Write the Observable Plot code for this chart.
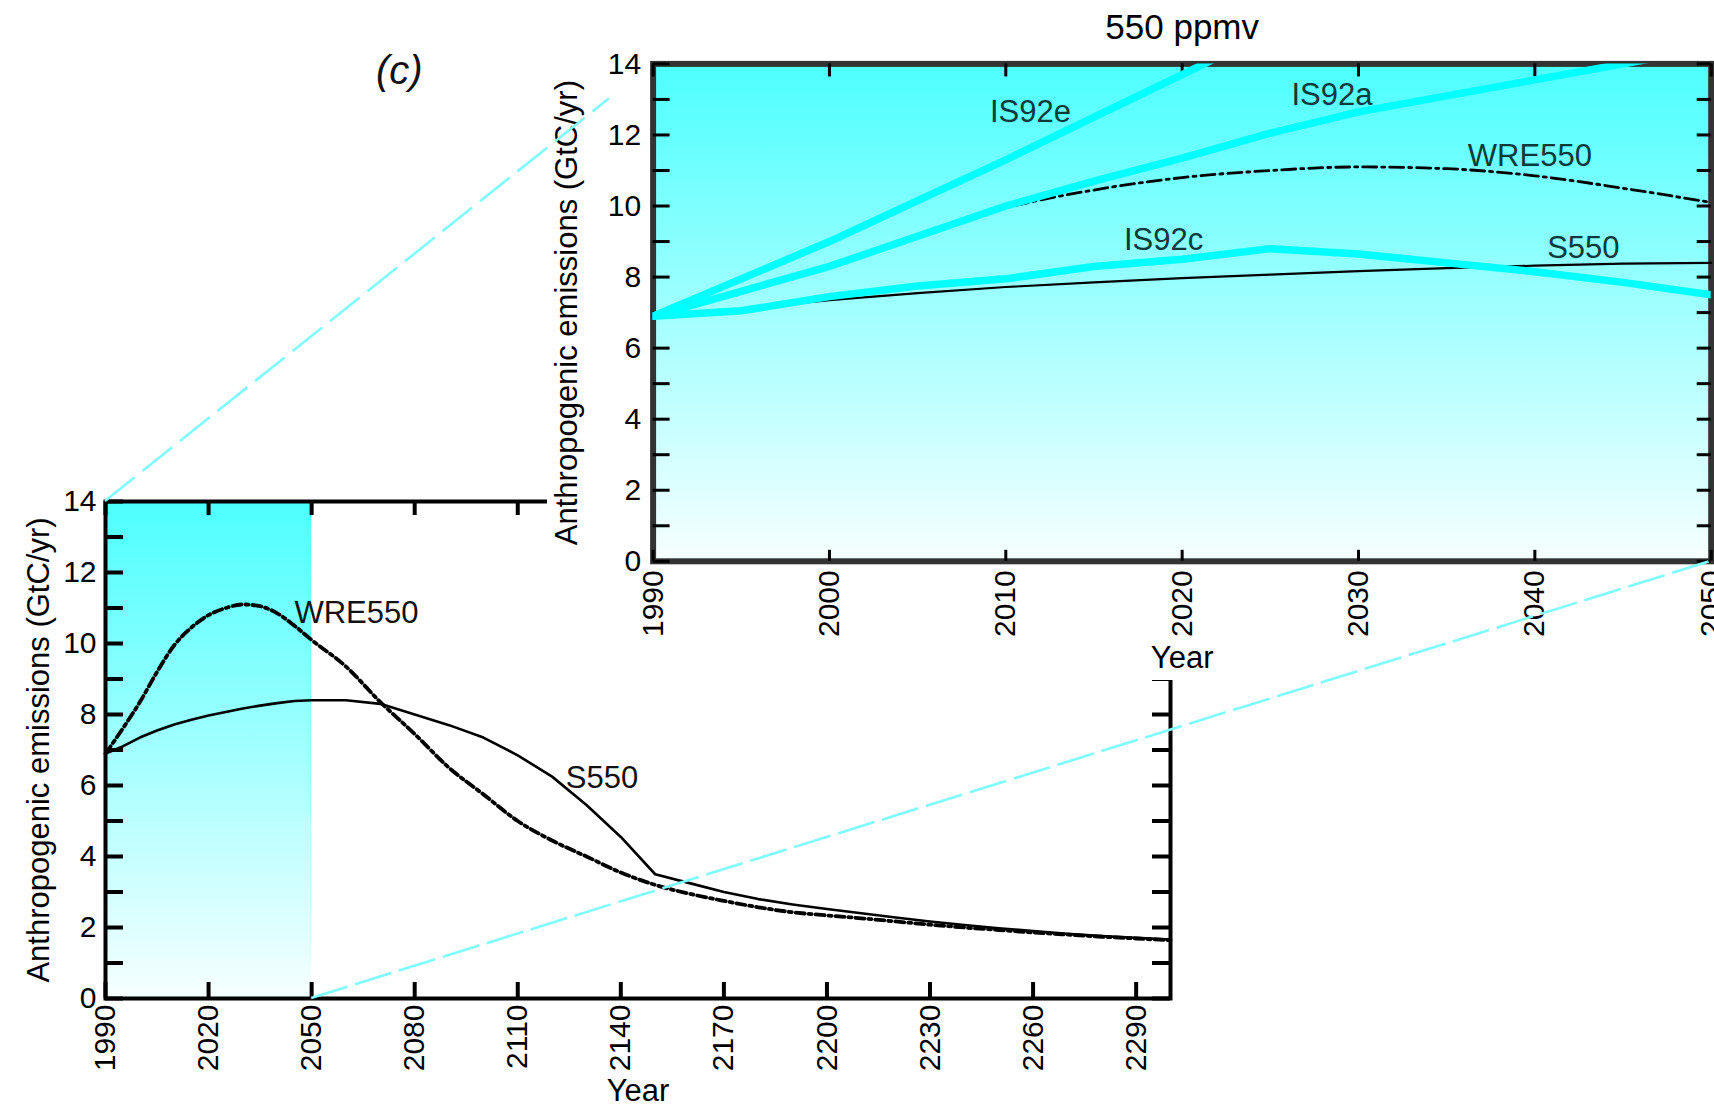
<!DOCTYPE html>
<html>
<head>
<meta charset="utf-8">
<script src="https://cdn.jsdelivr.net/npm/d3@7"></script>
<script src="https://cdn.jsdelivr.net/npm/@observablehq/plot@0.6"></script>
<style>
html, body { margin: 0; padding: 0; background: #fff; }
#fig { position: relative; width: 1714px; height: 1109px; overflow: hidden; background: #fff; }
#bottom, #upper, #links { position: absolute; top: 0; }
#bottom { left: 0; }
#upper { left: 547px; }
#links { left: 0; pointer-events: none; }
#panel { position: absolute; left: 376px; top: 50px; font: italic 40px "Liberation Sans", Arial, sans-serif; line-height: 1; color: #111; }
</style>
</head>
<body>
<div id="fig">
  <div id="bottom"></div>
  <div id="upper"></div>
  <svg id="links" width="1714" height="1109"></svg>
  <div id="panel">(c)</div>
</div>
<script>
// ---------------- data ----------------
const nearYears = [1990, 1995, 2000, 2005, 2010, 2015, 2020, 2025, 2030, 2035, 2040, 2045, 2050];
const farYears = [2060, 2070, 2080, 2090, 2100, 2110, 2120, 2130, 2140, 2150, 2160, 2170, 2180,
                  2190, 2200, 2210, 2220, 2230, 2240, 2250, 2260, 2270, 2280, 2290, 2300];

const wre550Near = [6.9, 7.6, 8.35, 9.2, 9.95, 10.45, 10.8, 11.0, 11.1, 11.05, 10.85, 10.5, 10.1];
const wre550Far  = [9.35, 8.35, 7.45, 6.5, 5.75, 5.0, 4.45, 4.0, 3.55, 3.2, 2.95, 2.75, 2.57,
                    2.43, 2.34, 2.26, 2.17, 2.08, 2.0, 1.93, 1.86, 1.8, 1.74, 1.69, 1.64];
const s550Near   = [6.9, 7.1, 7.35, 7.55, 7.72, 7.85, 7.97, 8.07, 8.17, 8.25, 8.32, 8.38, 8.4];
const s550Far    = [8.4, 8.3, 8.0, 7.7, 7.35, 6.85, 6.25, 5.45, 4.55, 3.5, 3.25, 3.0, 2.8,
                    2.65, 2.52, 2.4, 2.28, 2.17, 2.07, 1.98, 1.9, 1.82, 1.76, 1.71, 1.66];
const is92eYears = [1990, 1995, 2000, 2005, 2010, 2015, 2020, 2025];
const is92eVals  = [6.9, 7.95, 9.0, 10.15, 11.3, 12.5, 13.7, 14.9];
const is92aVals  = [6.9, 7.6, 8.3, 9.15, 10.0, 10.7, 11.35, 12.05, 12.65, 13.1, 13.55, 14.0, 14.45];
const is92cVals  = [6.9, 7.05, 7.45, 7.75, 7.95, 8.3, 8.5, 8.8, 8.65, 8.4, 8.15, 7.85, 7.5];

const zoomWindow = {start: 1990, end: 2050, low: 0, high: 14};
const yLabelTicks = [0, 2, 4, 6, 8, 10, 12, 14];
const yMinorTicks = d3.range(0, 15, 1);
const bottomXTicks = [1990, 2020, 2050, 2080, 2110, 2140, 2170, 2200, 2230, 2260, 2290];
const upperXTicks = [1990, 2000, 2010, 2020, 2030, 2040, 2050];

const bottomLabels = [
  {name: "WRE550", year: 2045, value: 10.87},
  {name: "S550", year: 2124, value: 6.2}
];
const upperLabels = [
  {name: "IS92e", year: 2009.1, value: 12.63},
  {name: "IS92a", year: 2026.2, value: 13.12},
  {name: "WRE550", year: 2036.2, value: 11.4},
  {name: "IS92c", year: 2016.7, value: 9.03},
  {name: "S550", year: 2040.7, value: 8.83}
];

const yTitle = "Anthropogenic emissions (GtC/yr)";
const xTitle = "Year";
const chartTitle = "550 ppmv";

// ---------------- helpers ----------------
const series = (yrs, vals) => yrs.map((year, i) => ({year, value: vals[i]}));
const wre = series(nearYears.concat(farYears), wre550Near.concat(wre550Far));
const s550 = series(nearYears.concat(farYears), s550Near.concat(s550Far));
const is92e = series(is92eYears, is92eVals);
const is92a = series(nearYears, is92aVals);
const is92c = series(nearYears, is92cVals);

const FONT = '"Liberation Sans", Arial, sans-serif';
const TICK_FS = 30, TITLE_FS = 31, LABEL_FS = 31;

function gradientDefs(id) {
  return () => {
    const defs = d3.create("svg:defs");
    const g = defs.append("linearGradient").attr("id", id)
      .attr("x1", "0").attr("y1", "0").attr("x2", "0").attr("y2", "1");
    g.append("stop").attr("offset", "0").attr("stop-color", "#4dffff");
    g.append("stop").attr("offset", "1").attr("stop-color", "#f7ffff");
    return defs.node();
  };
}

// ---------------- bottom (full period) chart ----------------
const B = {width: 1714, height: 1109, left: 105, right: 544, top: 501, bottom: 111};
const bfw = B.width - B.left - B.right, bfh = B.height - B.top - B.bottom;

const bottomChart = Plot.plot({
  width: B.width, height: B.height,
  marginLeft: B.left, marginRight: B.right, marginTop: B.top, marginBottom: B.bottom,
  style: {background: "transparent", fontFamily: FONT, overflow: "visible", color: "#000"},
  x: {domain: [1990, 2300]},
  y: {domain: [0, 14]},
  marks: [
    gradientDefs("shadeB"),
    Plot.rect([zoomWindow], {x1: "start", x2: "end", y1: "low", y2: "high", fill: "url(#shadeB)"}),
    Plot.frame({stroke: "#000", strokeWidth: 4}),
    Plot.tickY(yMinorTicks, {y: d => d, insetRight: bfw - 18, stroke: "#000", strokeWidth: 4}),
    Plot.tickY(yMinorTicks, {y: d => d, insetLeft: bfw - 18, stroke: "#000", strokeWidth: 4}),
    Plot.tickX(bottomXTicks, {x: d => d, insetTop: bfh - 16, stroke: "#000", strokeWidth: 4}),
    Plot.tickX(bottomXTicks, {x: d => d, insetBottom: bfh - 14, stroke: "#000", strokeWidth: 4}),
    Plot.line(s550, {x: "year", y: "value", stroke: "#000", strokeWidth: 2.6}),
    Plot.line(wre, {x: "year", y: "value", stroke: "#000", strokeWidth: 3.8, strokeDasharray: "9,4,3,4", curve: "monotone-x"}),
    Plot.text(bottomLabels, {x: "year", y: "value", text: "name", textAnchor: "start", lineAnchor: "middle", fontSize: LABEL_FS, fill: "#111"}),
    Plot.axisY(yLabelTicks, {tickSize: 0, tickPadding: 9, fontSize: TICK_FS, label: null}),
    Plot.axisX(bottomXTicks, {tickSize: 0, tickPadding: 6, tickRotate: -90, fontSize: TICK_FS, label: null, tickFormat: d => String(d)}),
    Plot.text([xTitle], {text: d => d, frameAnchor: "bottom", dy: 102, lineAnchor: "bottom", fontSize: TITLE_FS}),
    Plot.text([yTitle], {text: d => d, frameAnchor: "left", textAnchor: "middle", rotate: -90, dx: -57, lineAnchor: "bottom", fontSize: TITLE_FS})
  ]
});
document.getElementById("bottom").appendChild(bottomChart);

// ---------------- upper (zoomed 1990-2050) chart ----------------
const U = {width: 1714 - 547, height: 680, left: 105.6, right: 3.3, top: 63.4, bottom: 119.2};
const ufw = U.width - U.left - U.right, ufh = U.height - U.top - U.bottom;
const upTo2050 = arr => arr.filter(d => d.year <= zoomWindow.end);

const upperChart = Plot.plot({
  width: U.width, height: U.height,
  marginLeft: U.left, marginRight: U.right, marginTop: U.top, marginBottom: U.bottom,
  style: {background: "#fff", fontFamily: FONT, overflow: "hidden", color: "#000"},
  x: {domain: [zoomWindow.start, zoomWindow.end]},
  y: {domain: [zoomWindow.low, zoomWindow.high]},
  marks: [
    gradientDefs("shadeU"),
    Plot.rect([zoomWindow], {x1: "start", x2: "end", y1: "low", y2: "high", fill: "url(#shadeU)"}),
    Plot.frame({stroke: "#333", strokeWidth: 6}),
    Plot.tickY(yMinorTicks, {y: d => d, insetRight: ufw - 17, stroke: "#000", strokeWidth: 3}),
    Plot.tickY(yMinorTicks, {y: d => d, insetLeft: ufw - 14, stroke: "#000", strokeWidth: 3}),
    Plot.tickX(upperXTicks, {x: d => d, insetTop: ufh - 11, stroke: "#000", strokeWidth: 3}),
    Plot.tickX(upperXTicks, {x: d => d, insetBottom: ufh - 13, stroke: "#000", strokeWidth: 3}),
    Plot.line(upTo2050(s550), {x: "year", y: "value", stroke: "#000", strokeWidth: 2.2}),
    Plot.line(upTo2050(wre), {x: "year", y: "value", stroke: "#000", strokeWidth: 2.8, strokeDasharray: "14,5,3,5", curve: "monotone-x"}),
    Plot.line(is92c, {x: "year", y: "value", stroke: "#00ffff", strokeWidth: 7.5, clip: true}),
    Plot.line(is92a, {x: "year", y: "value", stroke: "#00ffff", strokeWidth: 7.5, clip: true}),
    Plot.line(is92e, {x: "year", y: "value", stroke: "#00ffff", strokeWidth: 7.5, clip: true}),
    Plot.text(upperLabels, {x: "year", y: "value", text: "name", textAnchor: "start", lineAnchor: "middle", fontSize: LABEL_FS, fill: "#0b3a3a"}),
    Plot.axisY(yLabelTicks, {tickSize: 0, tickPadding: 12, fontSize: TICK_FS, label: null}),
    Plot.axisX(upperXTicks, {tickSize: 0, tickPadding: 9, tickRotate: -90, fontSize: TICK_FS, label: null, tickFormat: d => String(d)}),
    Plot.text([xTitle], {text: d => d, frameAnchor: "bottom", dy: 107, lineAnchor: "bottom", fontSize: TITLE_FS}),
    Plot.text([yTitle], {text: d => d, frameAnchor: "left", textAnchor: "middle", rotate: -90, dx: -76, lineAnchor: "bottom", fontSize: TITLE_FS}),
    Plot.text([chartTitle], {text: d => d, frameAnchor: "top", dy: -36, lineAnchor: "middle", fontSize: 35})
  ]
});
document.getElementById("upper").appendChild(upperChart);

// ---------------- connector lines between the two panels ----------------
const UPPER_LEFT = 547;
const bx = bottomChart.scale("x"), by = bottomChart.scale("y");
const ux = upperChart.scale("x"), uy = upperChart.scale("y");
const links = d3.select("#links");
const c1a = [bx.apply(zoomWindow.start), by.apply(zoomWindow.high)];
const c1b = [UPPER_LEFT + ux.apply(zoomWindow.start), uy.apply(zoomWindow.high)];
const f = 0.92;
links.append("line")
  .attr("x1", c1a[0]).attr("y1", c1a[1])
  .attr("x2", c1a[0] + f * (c1b[0] - c1a[0])).attr("y2", c1a[1] + f * (c1b[1] - c1a[1]))
  .attr("stroke", "#80ffff").attr("stroke-width", 2.6).attr("stroke-dasharray", "38,10");
links.append("line")
  .attr("x1", bx.apply(zoomWindow.end)).attr("y1", by.apply(zoomWindow.low))
  .attr("x2", UPPER_LEFT + ux.apply(zoomWindow.end)).attr("y2", uy.apply(zoomWindow.low))
  .attr("stroke", "#80ffff").attr("stroke-width", 2.6).attr("stroke-dasharray", "38,8");
</script>
</body>
</html>
